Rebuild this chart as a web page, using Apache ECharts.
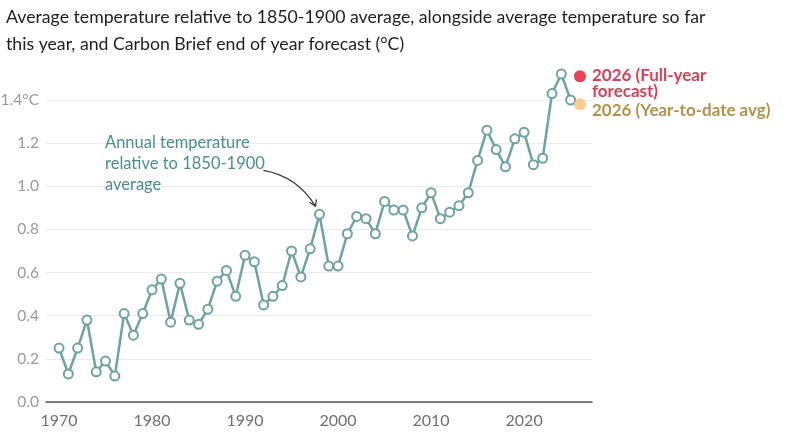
<!DOCTYPE html>
<html>
<head>
<meta charset="utf-8">
<script src="https://cdn.jsdelivr.net/npm/echarts@6/dist/echarts.min.js"></script>
<style>
  html, body { margin: 0; padding: 0; background: #fff; }
  #chart { width: 791px; height: 438px; }
</style>
</head>
<body>
<div id="chart"></div>
<script>
// annual temperature relative to 1850-1900 (degC)
var years = [];
for (var y = 1970; y <= 2025; y++) years.push(y);
var temps = [
  0.25, 0.13, 0.25, 0.38, 0.14, 0.19, 0.12, 0.41, 0.31, 0.41,
  0.52, 0.57, 0.37, 0.55, 0.38, 0.36, 0.43, 0.56, 0.61, 0.49,
  0.68, 0.65, 0.45, 0.49, 0.54, 0.70, 0.58, 0.71, 0.87, 0.63,
  0.63, 0.78, 0.86, 0.85, 0.78, 0.93, 0.89, 0.89, 0.77, 0.90,
  0.97, 0.85, 0.88, 0.91, 0.97, 1.12, 1.26, 1.17, 1.09, 1.22,
  1.25, 1.10, 1.13, 1.43, 1.52, 1.40
];
var forecastYear = 2026;
var forecastFull = 1.51;
var forecastYtd = 1.38;
var xTickLabels = [1970, 1980, 1990, 2000, 2010, 2020];

var lineData = years.map(function (yr, i) { return [yr, temps[i]]; });

var chart = echarts.init(document.getElementById('chart'));

var option = {
  animation: false,
  title: {
    text: 'Average temperature relative to 1850-1900 average, alongside average temperature so far\nthis year, and Carbon Brief end of year forecast (°C)',
    left: 1,
    top: -1,
    textStyle: { fontFamily: 'Lato', fontSize: 17.7, fontWeight: 'normal', color: '#1e1e1e', lineHeight: 27 }
  },
  grid: { left: 46, right: 199, top: 100, bottom: 36, outerBoundsMode: 'none', containLabel: false },
  xAxis: {
    type: 'value',
    min: 1968.6,
    max: 2027.3,
    splitLine: { show: false },
    axisTick: { show: false },
    axisLine: { show: true, lineStyle: { color: '#555', width: 1.5 } },
    axisLabel: {
      customValues: xTickLabels,
      formatter: function (v) { return String(v); },
      color: '#707070',
      fontFamily: 'Lato',
      fontSize: 16,
      margin: 11
    }
  },
  yAxis: {
    type: 'value',
    min: 0,
    max: 1.4,
    interval: 0.2,
    axisLine: { show: false },
    axisTick: { show: false },
    splitLine: { lineStyle: { color: '#ebebeb', width: 1.2 } },
    axisLabel: {
      color: '#9a9a9a',
      fontFamily: 'Lato',
      fontSize: 15.5,
      margin: 7,
      formatter: function (v) {
        return Math.abs(v - 1.4) < 1e-6 ? v.toFixed(1) + '°C' : v.toFixed(1);
      }
    }
  },
  series: [
    {
      type: 'line',
      data: lineData,
      clip: false,
      symbol: 'circle',
      symbolSize: 9,
      lineStyle: { color: '#6fa2a2', width: 2.5 },
      itemStyle: { color: '#fff', borderColor: '#6fa2a2', borderWidth: 2 },
      z: 3
    },
    {
      type: 'scatter',
      data: [[forecastYear, forecastFull]],
      clip: false,
      symbolSize: 12,
      itemStyle: { color: '#e5112a' },
      label: {
        show: true,
        position: 'right',
        distance: 6,
        offset: [0, 7],
        formatter: '2026 (Full-year\nforecast)',
        color: '#cf0f29',
        fontFamily: 'Lato',
        fontWeight: 'bold',
        fontSize: 17,
        lineHeight: 16.5
      },
      z: 4
    },
    {
      type: 'scatter',
      data: [[forecastYear, forecastYtd]],
      clip: false,
      symbolSize: 12,
      itemStyle: { color: '#f7c170' },
      label: {
        show: true,
        position: 'right',
        distance: 6,
        offset: [0, 6],
        formatter: '2026 (Year-to-date avg)',
        color: '#9c771c',
        fontFamily: 'Lato',
        fontWeight: 'bold',
        fontSize: 17
      },
      z: 4
    }
  ]
};

chart.setOption(option);

// annotation and curved arrow pointing at the 1998 value
var idx1998 = years.indexOf(1998);
var p = chart.convertToPixel({ gridIndex: 0 }, [1998, temps[idx1998]]);
var ex = p[0] - 4, ey = p[1] - 8;
var sx = ex - 52, sy = ey - 36;
chart.setOption({
  graphic: [
    {
      type: 'text',
      left: 105,
      top: 132,
      style: {
        text: 'Annual temperature\nrelative to 1850-1900\naverage',
        fill: '#4b8e8e',
        font: '16.5px Lato',
        lineHeight: 21
      }
    },
    {
      type: 'bezierCurve',
      shape: { x1: sx, y1: sy, x2: ex, y2: ey, cpx1: ex - 18, cpy1: sy + 6 },
      style: { stroke: '#333', lineWidth: 1.2, fill: null }
    },
    {
      type: 'polyline',
      shape: { points: [[ex - 6, ey - 4], [ex, ey], [ex + 1, ey - 7]] },
      style: { stroke: '#333', lineWidth: 1.2, fill: null }
    }
  ]
});
</script>
</body>
</html>
